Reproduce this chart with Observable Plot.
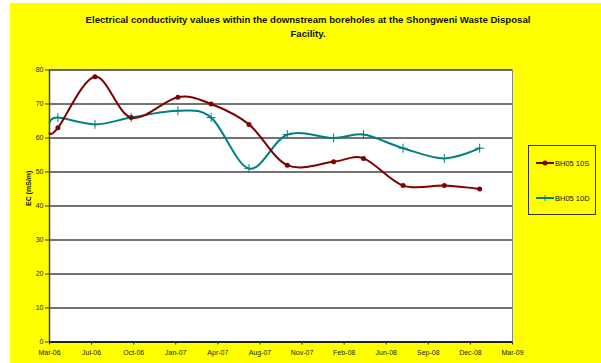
<!DOCTYPE html>
<html>
<head>
<meta charset="utf-8">
<script src="https://cdn.jsdelivr.net/npm/d3@7"></script>
<script src="https://cdn.jsdelivr.net/npm/@observablehq/plot@0.6"></script>
<style>
  html, body { margin: 0; padding: 0; background: #ffffff; }
  body { width: 601px; height: 363px; position: relative; overflow: hidden; font-family: "Liberation Sans", Arial, sans-serif; }
  #bg { position: absolute; left: 10px; top: 3px; width: 591px; height: 360px; background: #ffff00; }
  #chart { position: absolute; left: 0; top: 0; }
  #title { position: absolute; left: 0; top: 13px; width: 616px; text-align: center; font-weight: bold; font-size: 9.6px; line-height: 14px; color: #111; }
  #legend { position: absolute; left: 528px; top: 145px; width: 68px; height: 70px; border: 1px solid #333; box-sizing: border-box; }
  .leg { position: absolute; left: 6px; font-size: 7.5px; color: #111; display: flex; align-items: center; }
  .leg svg { display: block; }
</style>
</head>
<body>
<div id="bg"></div>
<div id="title">Electrical conductivity values within the downstream boreholes at the Shongweni Waste Disposal<br>Facility.</div>
<div id="chart"></div>
<div id="legend"></div>
<script>
const parse = d3.utcParse("%Y-%m-%d");

// Sampling dates
const dates = ["2006-03-24", "2006-04-13", "2006-07-10", "2006-10-04", "2007-01-23", "2007-04-12",
  "2007-07-11", "2007-10-10", "2008-01-28", "2008-04-08", "2008-07-11", "2008-10-17", "2009-01-09"];
// Series values (EC, mS/m)
const bh05_10S = [61.4, 63, 78, 66, 72, 70, 64, 52, 53, 54, 46, 46, 45];
const bh05_10D = [64.5, 66, 64, 66, 68, 66, 51, 61, 60, 61, 57, 54, 57];
const seriesNames = ["BH05 10S", "BH05 10D"];
const seriesColors = ["#800000", "#008080"];

// Axis
const xDomain = ["2006-03-24", "2009-03-28"];
const xTicks = ["2006-03-24", "2006-07-02", "2006-10-10", "2007-01-18", "2007-04-28", "2007-08-06",
  "2007-11-14", "2008-02-22", "2008-06-01", "2008-09-09", "2008-12-18", "2009-03-28"];
const yTicks = [0, 10, 20, 30, 40, 50, 60, 70, 80];
const yLabel = "EC (mS/m)";

const rows = [];
dates.forEach((d, i) => {
  rows.push({date: parse(d), value: bh05_10S[i], series: seriesNames[0], i});
});
dates.forEach((d, i) => {
  rows.push({date: parse(d), value: bh05_10D[i], series: seriesNames[1], i});
});
const s10S = rows.filter(r => r.series === seriesNames[0]);
const s10D = rows.filter(r => r.series === seriesNames[1]);
const fmt = d3.utcFormat("%b-%y");

const plot = Plot.plot({
  width: 601,
  height: 363,
  marginLeft: 49,
  marginRight: 89,
  marginTop: 69.5,
  marginBottom: 21.5,
  style: {background: "transparent", fontFamily: "'Liberation Sans', Arial, sans-serif", color: "#222"},
  x: {type: "utc", domain: xDomain.map(parse)},
  y: {domain: [0, 80]},
  marks: [
    Plot.frame({fill: "white", stroke: "#888"}),
    Plot.gridY(yTicks, {stroke: "#444", strokeOpacity: 1, strokeWidth: 1.3}),
    Plot.ruleY([0], {stroke: "#111", strokeWidth: 1.5}),
    Plot.ruleX([parse(xDomain[0])], {stroke: "#444", strokeWidth: 1.5}),
    Plot.axisY(yTicks, {tickSize: 4, tickPadding: 2, fontSize: 7, label: null, stroke: "#333"}),
    Plot.axisX(xTicks.map(parse), {tickSize: 3, tickPadding: 5, fontSize: 7, tickFormat: fmt, label: null, stroke: "#333"}),
    Plot.text([yLabel], {frameAnchor: "left", rotate: -90, dx: -21, fontWeight: "bold", fontSize: 7, fill: "#111"}),
    Plot.line(s10D, {x: "date", y: "value", stroke: seriesColors[1], strokeWidth: 2, curve: "cardinal", tension: 0}),
    Plot.dot(s10D, {filter: d => d.i > 0, x: "date", y: "value", symbol: "plus", stroke: seriesColors[1], strokeWidth: 1, r: 3}),
    Plot.line(s10S, {x: "date", y: "value", stroke: seriesColors[0], strokeWidth: 2, curve: "cardinal", tension: 0}),
    Plot.dot(s10S, {filter: d => d.i > 0, x: "date", y: "value", fill: seriesColors[0], r: 2.5})
  ]
});
document.getElementById("chart").appendChild(plot);

// Legend
const legend = document.getElementById("legend");
const tops = [12, 47];
seriesNames.forEach((name, i) => {
  const div = document.createElement("div");
  div.className = "leg";
  div.style.top = tops[i] + "px";
  const svg = i === 0
    ? `<svg width="20" height="10"><line x1="1" x2="19" y1="5" y2="5" stroke="${seriesColors[i]}" stroke-width="2"/><circle cx="10" cy="5" r="2.5" fill="${seriesColors[i]}"/></svg>`
    : `<svg width="20" height="10"><line x1="1" x2="19" y1="5" y2="5" stroke="${seriesColors[i]}" stroke-width="2"/><path d="M10,2V8M7,5H13" stroke="${seriesColors[i]}" stroke-width="1"/></svg>`;
  div.innerHTML = svg + `<span>${name}</span>`;
  legend.appendChild(div);
});
</script>
</body>
</html>
